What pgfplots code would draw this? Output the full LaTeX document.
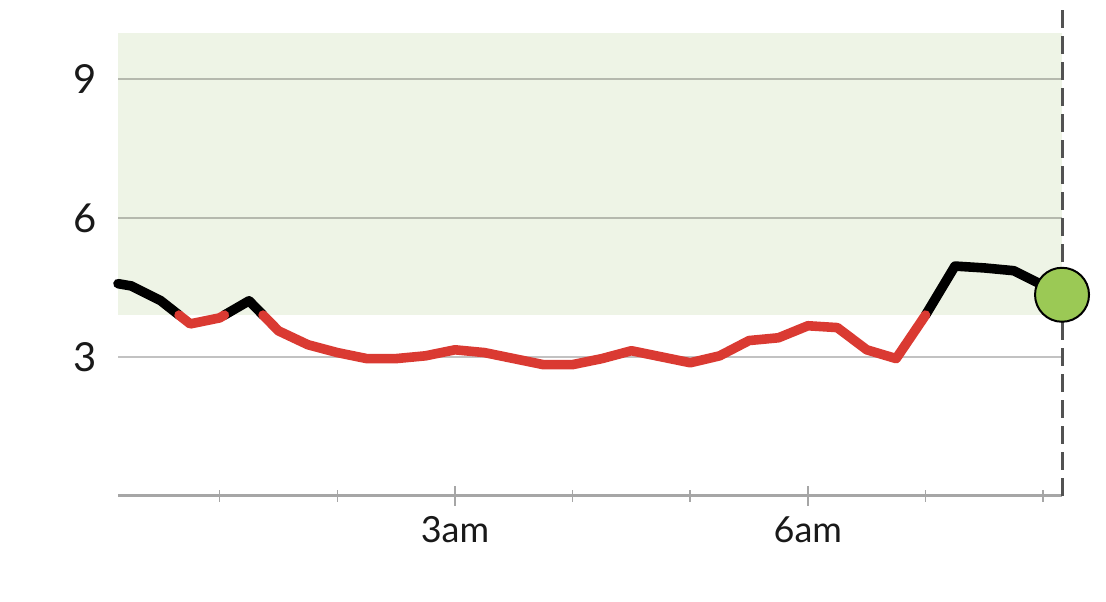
\documentclass[border=0pt]{standalone}
\usepackage{fontspec}
\setmainfont{Lato}
\usepackage{pgfplots}
\pgfplotsset{compat=1.18}
\definecolor{lowred}{HTML}{DA3A32}
\definecolor{band}{HTML}{EEF4E6}
\definecolor{dotgreen}{HTML}{9BC955}
\definecolor{axisgray}{HTML}{A6A6A6}

\begin{document}
\begin{tikzpicture}
% 1 px of the reference = 0.5pt
\begin{axis}[
    at={(0pt,0pt)}, anchor=south west,
    scale only axis,
    width=472pt, height=247pt,
    xmin=0.136, xmax=8.16,
    ymin=0, ymax=10.68,
    clip=false,
    set layers,
    axis x line=bottom,
    axis y line=left,
    axis line style={-},
    x axis line style={axisgray, line width=1.3pt},
    y axis line style={draw=none},
    ytick={3,6,9},
    ytick style={draw=none},
    ymajorgrids,
    major grid style={black, opacity=0.24, line width=1pt},
    xtick={3,6},
    xticklabels={3am,6am},
    minor xtick={1,2,4,5,7,8},
    tick align=center,
    major tick length=10pt,
    minor tick length=6pt,
    xtick style={axisgray, line width=0.8pt},
    /pgf/number format/assume math mode=true,
    ticklabel style={text=black!90},
    yticklabel style={font=\fontsize{20}{24}\selectfont, xshift=-2pt},
    xticklabel style={font=\fontsize{18}{22}\selectfont, yshift=-2pt},
    unbounded coords=jump,
]

% target range band
\addplot[on layer=axis background, fill=band, draw=none]
    coordinates {(0.136,3.9) (8.16,3.9) (8.16,10) (0.136,10)} -- cycle;

% current time marker
\addplot[black!68, line width=1.5pt, dash pattern=on 9pt off 4pt]
    coordinates {(8.16,0) (8.16,10.68)};

% in range (black)
\addplot[black, line width=4.8pt, line cap=round, line join=round] coordinates {
    (0.136,4.58) (0.25,4.53) (0.5,4.21) (0.655,3.9)
    (0.7,nan)
    (1.04,3.9) (1.25,4.21) (1.369,3.9)
    (4,nan)
    (7.0,3.9) (7.25,4.96) (7.5,4.92) (7.75,4.86) (8.16,4.34)
};

% low (red)
\addplot[lowred, line width=4.8pt, line cap=round, line join=round] coordinates {
    (0.655,3.9) (0.75,3.71) (1.0,3.84) (1.04,3.9)
    (1.2,nan)
    (1.369,3.9) (1.5,3.56) (1.75,3.26) (2.0,3.09) (2.25,2.96) (2.5,2.96)
    (2.75,3.02) (3.0,3.15) (3.25,3.09) (3.5,2.96) (3.75,2.83) (4.0,2.83)
    (4.25,2.96) (4.5,3.13) (4.75,3.0) (5.0,2.87) (5.25,3.02) (5.5,3.35)
    (5.75,3.41) (6.0,3.67) (6.25,3.63) (6.5,3.15) (6.75,2.96) (7.0,3.9)
};

% latest reading
\addplot[only marks, mark=*, mark size=13.5pt,
    mark options={fill=dotgreen, draw=black, line width=1pt}]
    coordinates {(8.16,4.34)};

\end{axis}
\path (-59pt,-53pt) rectangle (494pt,247pt);
\end{tikzpicture}
\end{document}
